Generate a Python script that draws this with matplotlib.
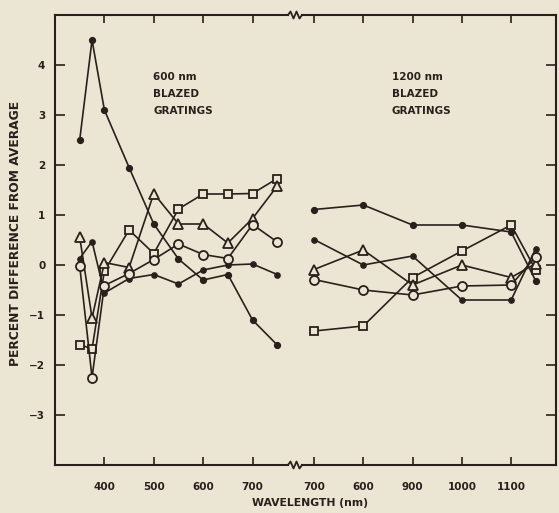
import matplotlib
matplotlib.use("Agg")
import matplotlib.pyplot as plt
from matplotlib.lines import Line2D

# ---------------- data ----------------
wl_left = [350, 375, 400, 450, 500, 550, 600, 650, 700, 750]
A_left = [2.5, 4.5, 3.1, 1.95, 0.82, 0.12, -0.3, -0.19, -1.1, -1.6]
B_left = [0.13, 0.47, -0.56, -0.27, -0.19, -0.38, -0.1, 0.0, 0.02, -0.19]
C_left = [-1.59, -1.68, -0.12, 0.7, 0.23, 1.12, 1.42, 1.42, 1.43, 1.73]
D_left = [0.56, -1.06, 0.05, -0.05, 1.43, 0.82, 0.82, 0.44, 0.93, 1.58]
E_left = [-0.02, -2.25, -0.41, -0.17, 0.11, 0.42, 0.21, 0.13, 0.81, 0.46]

wl_right = [700, 800, 900, 1000, 1100, 1150]
A_right = [1.11, 1.2, 0.8, 0.8, 0.66, -0.32]
B_right = [0.51, 0.0, 0.18, -0.7, -0.7, 0.33]
C_right = [-1.32, -1.22, -0.25, 0.28, 0.8, -0.1]
D_right = [-0.09, 0.3, -0.4, 0.0, -0.25, 0.03]
E_right = [-0.29, -0.5, -0.6, -0.42, -0.4, 0.17]

left_ticks = [400, 500, 600, 700]
left_ticklabels = ["400", "500", "600", "700"]
right_ticks = [700, 800, 900, 1000, 1100]
right_ticklabels = ["700", "600", "900", "1000", "1100"]
y_ticks = [-3, -2, -1, 0, 1, 2, 3, 4]
y_ticklabels = ["\u22123", "\u22122", "\u22121", "0", "1", "2", "3", "4"]

# ---------------- style ----------------
BG = "#ebe5d4"
INK = "#2a201b"
W, H = 559, 513
plt.rcParams['font.family'] = ['DejaVu Sans']
plt.rcParams['font.weight'] = 'bold'

fig = plt.figure(figsize=(W / 100, H / 100), dpi=100, facecolor=BG)

x0, xb, x1 = 55, 297, 556
ytop, ybot = 15, 465
axL = fig.add_axes([x0 / W, 1 - ybot / H, (xb - x0) / W, (ybot - ytop) / H])
axR = fig.add_axes([xb / W, 1 - ybot / H, (x1 - xb) / W, (ybot - ytop) / H])

styles = [
    dict(marker='o', markersize=4.2, markerfacecolor=INK, markeredgecolor=INK),
    dict(marker='o', markersize=3.8, markerfacecolor=INK, markeredgecolor=INK),
    dict(marker='s', markersize=5.5, markerfacecolor=BG, markeredgecolor=INK, markeredgewidth=1.3),
    dict(marker='^', markersize=6.5, markerfacecolor=BG, markeredgecolor=INK, markeredgewidth=1.3),
    dict(marker='o', markersize=6.5, markerfacecolor=BG, markeredgecolor=INK, markeredgewidth=1.3),
]

left_series = [A_left, B_left, C_left, D_left, E_left]
right_series = [A_right, B_right, C_right, D_right, E_right]

for ax in (axL, axR):
    ax.set_facecolor(BG)
    ax.set_ylim(-4, 5)
    ax.set_yticks(y_ticks)
    for s in ax.spines.values():
        s.set_linewidth(1.5)
        s.set_color(INK)
    ax.tick_params(direction='in', colors=INK, width=1.2, labelsize=7.5,
                   top=True, bottom=True)

for ys, st in zip(left_series, styles):
    axL.plot(wl_left, ys, color=INK, linewidth=1.2, **st)
for ys, st in zip(right_series, styles):
    axR.plot(wl_right, ys, color=INK, linewidth=1.2, **st)

axL.set_xlim(300, 790)
axR.set_xlim(665.5, 1191)

axL.set_xticks(left_ticks)
axL.set_xticklabels(left_ticklabels)
axR.set_xticks(right_ticks)
axR.set_xticklabels(right_ticklabels)
for ax in (axL, axR):
    ax.tick_params(axis='x', length=6, pad=12)
axL.tick_params(axis='y', length=7, pad=7, left=True, right=False)
axL.set_yticklabels(y_ticklabels)
axR.tick_params(axis='y', length=7, left=False, right=True, labelleft=False)

axL.spines['right'].set_visible(False)
axR.spines['left'].set_visible(False)
axL.spines['top'].set_bounds(300, 300 + (288 - x0) / ((xb - x0) / 490))
axL.spines['bottom'].set_bounds(300, 300 + (288 - x0) / ((xb - x0) / 490))
axR.spines['top'].set_bounds(665.5 + (302 - xb) / ((x1 - xb) / 525.5), 1191)
axR.spines['bottom'].set_bounds(665.5 + (302 - xb) / ((x1 - xb) / 525.5), 1191)

# break zigzags
for yb in (ytop, ybot):
    xs = [288, 290.5, 293.5, 296.5, 299.5, 302]
    ys = [yb, yb - 3.5, yb + 3.5, yb - 3.5, yb + 3.5, yb]
    fig.add_artist(Line2D([x / W for x in xs], [1 - y / H for y in ys],
                          color=INK, linewidth=1.3, transform=fig.transFigure))

# annotations
txt_kw = dict(fontsize=7.5, fontweight='bold', color=INK, ha='left', va='center',
              linespacing=1.9)
fig.text(153 / W, 1 - 94 / H, "600 nm\nBLAZED\nGRATINGS", **txt_kw)
fig.text(392 / W, 1 - 94 / H, "1200 nm\nBLAZED\nGRATINGS", **txt_kw)

fig.text(310 / W, 1 - 503 / H, "WAVELENGTH (nm)", fontsize=7.8, fontweight='bold',
         color=INK, ha='center', va='center')
fig.text(16 / W, 1 - 233 / H, "PERCENT DIFFERENCE FROM AVERAGE", fontsize=8.8,
         fontweight='bold', color=INK, ha='center', va='center', rotation=90)

fig.savefig("out.png", dpi=100, facecolor=BG)
